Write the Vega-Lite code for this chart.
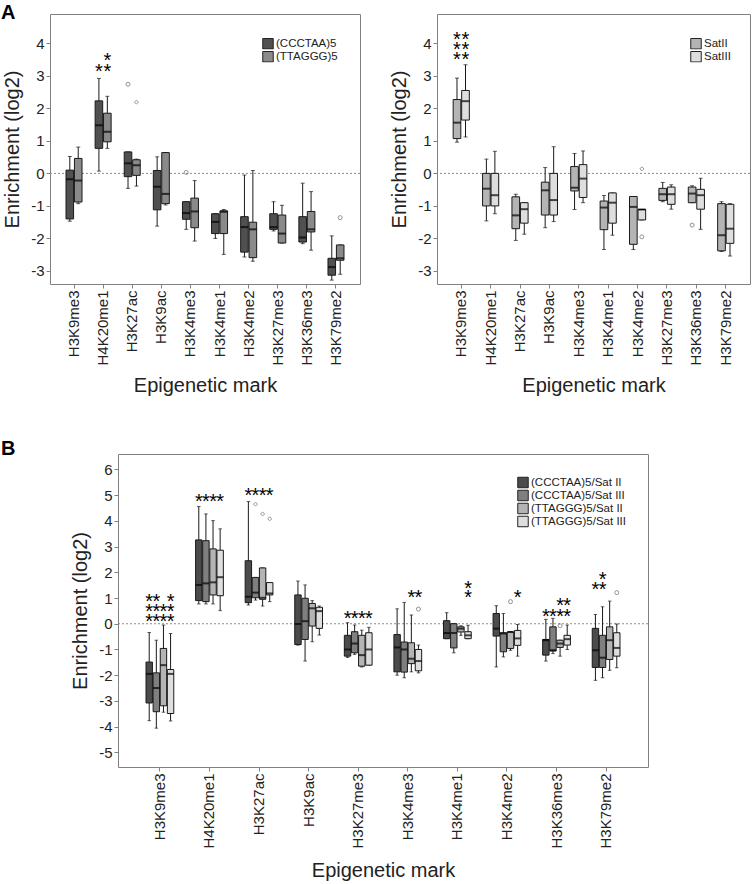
{
"$schema": "https://vega.github.io/schema/vega-lite/v6.json",
"padding": {"left": 0, "top": 2, "right": 0, "bottom": 0},
"background": "white",
"config": {
 "font": "Liberation Sans",
 "view": {"stroke": "#808080", "strokeWidth": 1},
 "axis": {"grid": false, "domain": false, "tickColor": "#808080", "tickSize": 4, "labelColor": "#222222", "titleColor": "#222222", "labelFontSize": 15, "titleFontSize": 20, "titleFontWeight": "normal", "labelFont": "Liberation Sans", "titleFont": "Liberation Sans", "labelPadding": 2, "labelOverlap": false},
 "axisY": {"labelOverlap": false, "labelBound": false, "labelFlush": false},
 "legend": {"title": null, "labelFontSize": 11.5, "labelFont": "Liberation Sans", "labelColor": "#222222", "symbolType": "square", "symbolSize": 110, "symbolStrokeColor": "#222222", "symbolStrokeWidth": 1, "rowPadding": 0, "labelOffset": 2, "padding": 0, "orient": "none", "clipHeight": 11.5}
},
"datasets": {
 "boxA1": [
  {"mark":"H3K9me3","series":"(CCCTAA)5","min":-1.47,"q1":-1.40,"med":-0.18,"q3":0.10,"max":0.52},
  {"mark":"H3K9me3","series":"(TTAGGG)5","min":-0.93,"q1":-0.88,"med":-0.22,"q3":0.46,"max":0.81},
  {"mark":"H4K20me1","series":"(CCCTAA)5","min":0.07,"q1":0.77,"med":1.48,"q3":2.23,"max":2.92},
  {"mark":"H4K20me1","series":"(TTAGGG)5","min":0.77,"q1":0.97,"med":1.28,"q3":1.85,"max":2.37},
  {"mark":"H3K27ac","series":"(CCCTAA)5","min":-0.46,"q1":-0.10,"med":0.31,"q3":0.66,"max":0.66},
  {"mark":"H3K27ac","series":"(TTAGGG)5","min":-0.39,"q1":-0.06,"med":0.25,"q3":0.42,"max":0.44},
  {"mark":"H3K9ac","series":"(CCCTAA)5","min":-1.62,"q1":-1.12,"med":-0.41,"q3":0.09,"max":0.51},
  {"mark":"H3K9ac","series":"(TTAGGG)5","min":-0.97,"q1":-0.93,"med":-0.63,"q3":0.64,"max":0.64},
  {"mark":"H3K4me3","series":"(CCCTAA)5","min":-1.72,"q1":-1.41,"med":-1.22,"q3":-0.87,"max":-0.87},
  {"mark":"H3K4me3","series":"(TTAGGG)5","min":-2.08,"q1":-1.67,"med":-1.17,"q3":-0.76,"max":-0.22},
  {"mark":"H3K4me1","series":"(CCCTAA)5","min":-2.0,"q1":-1.85,"med":-1.49,"q3":-1.24,"max":-1.24},
  {"mark":"H3K4me1","series":"(TTAGGG)5","min":-2.49,"q1":-1.85,"med":-1.18,"q3":-1.15,"max":-1.11},
  {"mark":"H3K4me2","series":"(CCCTAA)5","min":-2.57,"q1":-2.42,"med":-1.65,"q3":-1.33,"max":-0.05},
  {"mark":"H3K4me2","series":"(TTAGGG)5","min":-2.70,"q1":-2.59,"med":-1.72,"q3":-1.50,"max":0.09},
  {"mark":"H3K27me3","series":"(CCCTAA)5","min":-1.77,"q1":-1.72,"med":-1.65,"q3":-1.24,"max":-0.87},
  {"mark":"H3K27me3","series":"(TTAGGG)5","min":-2.14,"q1":-2.14,"med":-1.85,"q3":-1.28,"max":-0.98},
  {"mark":"H3K36me3","series":"(CCCTAA)5","min":-2.16,"q1":-2.11,"med":-1.97,"q3":-1.33,"max":-0.30},
  {"mark":"H3K36me3","series":"(TTAGGG)5","min":-2.36,"q1":-1.80,"med":-1.72,"q3":-1.17,"max":-0.56},
  {"mark":"H3K79me2","series":"(CCCTAA)5","min":-3.28,"q1":-3.13,"med":-2.88,"q3":-2.61,"max":-1.92},
  {"mark":"H3K79me2","series":"(TTAGGG)5","min":-3.10,"q1":-2.67,"med":-2.61,"q3":-2.20,"max":-2.20}
 ],
 "outA1": [
  {"mark":"H3K27ac","series":"(CCCTAA)5","value":2.74,"kind":"outlier"},
  {"mark":"H3K27ac","series":"(TTAGGG)5","value":2.19,"kind":"extreme"},
  {"mark":"H3K4me3","series":"(CCCTAA)5","value":0.03,"kind":"outlier"},
  {"mark":"H3K79me2","series":"(TTAGGG)5","value":-1.36,"kind":"outlier"}
 ],
 "starA1": [
  {"mark":"H4K20me1","series":"(CCCTAA)5","level":3.27},
  {"mark":"H4K20me1","series":"(TTAGGG)5","level":3.27},
  {"mark":"H4K20me1","series":"(TTAGGG)5","level":3.61}
 ],
 "boxA2": [
  {"mark":"H3K9me3","series":"SatII","min":0.96,"q1":1.07,"med":1.56,"q3":2.27,"max":2.93},
  {"mark":"H3K9me3","series":"SatIII","min":1.12,"q1":1.64,"med":2.22,"q3":2.55,"max":3.34},
  {"mark":"H4K20me1","series":"SatII","min":-1.46,"q1":-1.0,"med":-0.47,"q3":0.0,"max":0.44},
  {"mark":"H4K20me1","series":"SatIII","min":-1.24,"q1":-1.0,"med":-0.67,"q3":0.0,"max":0.68},
  {"mark":"H3K27ac","series":"SatII","min":-2.06,"q1":-1.70,"med":-1.29,"q3":-0.72,"max":-0.64},
  {"mark":"H3K27ac","series":"SatIII","min":-1.87,"q1":-1.53,"med":-1.10,"q3":-0.90,"max":-0.90},
  {"mark":"H3K9ac","series":"SatII","min":-1.67,"q1":-1.28,"med":-0.52,"q3":-0.27,"max":0.18},
  {"mark":"H3K9ac","series":"SatIII","min":-1.48,"q1":-1.28,"med":-0.82,"q3":0.0,"max":0.82},
  {"mark":"H3K4me3","series":"SatII","min":-1.11,"q1":-0.54,"med":-0.44,"q3":0.21,"max":0.61},
  {"mark":"H3K4me3","series":"SatIII","min":-0.90,"q1":-0.74,"med":-0.16,"q3":0.27,"max":0.69},
  {"mark":"H3K4me1","series":"SatII","min":-2.34,"q1":-1.73,"med":-1.05,"q3":-0.85,"max":-0.68},
  {"mark":"H3K4me1","series":"SatIII","min":-1.90,"q1":-1.53,"med":-0.90,"q3":-0.60,"max":-0.60},
  {"mark":"H3K4me2","series":"SatII","min":-2.34,"q1":-2.18,"med":-1.03,"q3":-0.71,"max":-0.71},
  {"mark":"H3K4me2","series":"SatIII","min":-1.43,"q1":-1.43,"med":-1.11,"q3":-1.11,"max":-1.11},
  {"mark":"H3K27me3","series":"SatII","min":-0.87,"q1":-0.83,"med":-0.64,"q3":-0.46,"max":-0.28},
  {"mark":"H3K27me3","series":"SatIII","min":-1.10,"q1":-0.95,"med":-0.64,"q3":-0.42,"max":-0.35},
  {"mark":"H3K36me3","series":"SatII","min":-0.90,"q1":-0.90,"med":-0.62,"q3":-0.42,"max":-0.38},
  {"mark":"H3K36me3","series":"SatIII","min":-1.72,"q1":-1.10,"med":-0.67,"q3":-0.49,"max":-0.15},
  {"mark":"H3K79me2","series":"SatII","min":-2.40,"q1":-2.38,"med":-1.90,"q3":-0.93,"max":-0.87},
  {"mark":"H3K79me2","series":"SatIII","min":-2.54,"q1":-2.15,"med":-1.70,"q3":-0.95,"max":-0.93}
 ],
 "outA2": [
  {"mark":"H3K4me2","series":"SatIII","value":0.14,"kind":"extreme"},
  {"mark":"H3K4me2","series":"SatIII","value":-1.95,"kind":"outlier"},
  {"mark":"H3K36me3","series":"SatII","value":-1.59,"kind":"outlier"}
 ],
 "starA2": [
  {"mark":"H3K9me3","series":"SatII","level":4.25},
  {"mark":"H3K9me3","series":"SatIII","level":4.25},
  {"mark":"H3K9me3","series":"SatII","level":3.95},
  {"mark":"H3K9me3","series":"SatIII","level":3.95},
  {"mark":"H3K9me3","series":"SatII","level":3.64},
  {"mark":"H3K9me3","series":"SatIII","level":3.64}
 ],
 "boxB": [
  {"mark":"H3K9me3","series":"(CCCTAA)5/Sat II","min":-3.77,"q1":-3.08,"med":-1.95,"q3":-1.49,"max":-0.34},
  {"mark":"H3K9me3","series":"(CCCTAA)5/Sat III","min":-4.06,"q1":-3.42,"med":-2.50,"q3":-1.91,"max":-0.64},
  {"mark":"H3K9me3","series":"(TTAGGG)5/Sat II","min":-3.44,"q1":-3.19,"med":-1.61,"q3":-0.96,"max":-0.05},
  {"mark":"H3K9me3","series":"(TTAGGG)5/Sat III","min":-3.78,"q1":-3.49,"med":-1.95,"q3":-1.78,"max":-0.38},
  {"mark":"H4K20me1","series":"(CCCTAA)5/Sat II","min":0.77,"q1":0.90,"med":1.51,"q3":3.26,"max":4.56},
  {"mark":"H4K20me1","series":"(CCCTAA)5/Sat III","min":0.77,"q1":0.86,"med":1.57,"q3":3.23,"max":4.27},
  {"mark":"H4K20me1","series":"(TTAGGG)5/Sat II","min":0.77,"q1":1.12,"med":1.61,"q3":2.91,"max":4.01},
  {"mark":"H4K20me1","series":"(TTAGGG)5/Sat III","min":0.51,"q1":1.09,"med":1.81,"q3":2.86,"max":3.69},
  {"mark":"H3K27ac","series":"(CCCTAA)5/Sat II","min":0.73,"q1":0.82,"med":1.05,"q3":2.45,"max":4.75},
  {"mark":"H3K27ac","series":"(CCCTAA)5/Sat III","min":0.92,"q1":1.01,"med":1.21,"q3":1.80,"max":1.80},
  {"mark":"H3K27ac","series":"(TTAGGG)5/Sat II","min":0.69,"q1":0.95,"med":1.01,"q3":2.17,"max":2.17},
  {"mark":"H3K27ac","series":"(TTAGGG)5/Sat III","min":0.86,"q1":1.12,"med":1.18,"q3":1.60,"max":1.60},
  {"mark":"H3K9ac","series":"(CCCTAA)5/Sat II","min":-0.83,"q1":-0.81,"med":-0.01,"q3":1.12,"max":1.66},
  {"mark":"H3K9ac","series":"(CCCTAA)5/Sat III","min":-1.45,"q1":-0.61,"med":0.10,"q3":0.99,"max":1.51},
  {"mark":"H3K9ac","series":"(TTAGGG)5/Sat II","min":-0.70,"q1":-0.09,"med":0.60,"q3":0.79,"max":0.90},
  {"mark":"H3K9ac","series":"(TTAGGG)5/Sat III","min":-0.44,"q1":-0.18,"med":0.49,"q3":0.64,"max":0.69},
  {"mark":"H3K27me3","series":"(CCCTAA)5/Sat II","min":-1.31,"q1":-1.26,"med":-1.0,"q3":-0.45,"max":0.04},
  {"mark":"H3K27me3","series":"(CCCTAA)5/Sat III","min":-1.19,"q1":-1.13,"med":-0.77,"q3":-0.31,"max":-0.05},
  {"mark":"H3K27me3","series":"(TTAGGG)5/Sat II","min":-1.68,"q1":-1.65,"med":-1.22,"q3":-0.45,"max":-0.25},
  {"mark":"H3K27me3","series":"(TTAGGG)5/Sat III","min":-1.61,"q1":-1.61,"med":-1.0,"q3":-0.35,"max":-0.14},
  {"mark":"H3K4me3","series":"(CCCTAA)5/Sat II","min":-2.0,"q1":-1.87,"med":-0.92,"q3":-0.42,"max":0.58},
  {"mark":"H3K4me3","series":"(CCCTAA)5/Sat III","min":-2.10,"q1":-1.88,"med":-1.0,"q3":-0.71,"max":0.83},
  {"mark":"H3K4me3","series":"(TTAGGG)5/Sat II","min":-1.87,"q1":-1.55,"med":-1.36,"q3":-0.74,"max":0.34},
  {"mark":"H3K4me3","series":"(TTAGGG)5/Sat III","min":-1.91,"q1":-1.83,"med":-1.45,"q3":-1.0,"max":-0.83},
  {"mark":"H3K4me1","series":"(CCCTAA)5/Sat II","min":-0.58,"q1":-0.58,"med":-0.36,"q3":0.12,"max":0.43},
  {"mark":"H3K4me1","series":"(CCCTAA)5/Sat III","min":-1.13,"q1":-0.94,"med":-0.36,"q3":0.0,"max":0.01},
  {"mark":"H3K4me1","series":"(TTAGGG)5/Sat II","min":-0.45,"q1":-0.32,"med":-0.19,"q3":-0.12,"max":-0.08},
  {"mark":"H3K4me1","series":"(TTAGGG)5/Sat III","min":-0.58,"q1":-0.58,"med":-0.45,"q3":-0.31,"max":-0.06},
  {"mark":"H3K4me2","series":"(CCCTAA)5/Sat II","min":-1.68,"q1":-0.48,"med":-0.19,"q3":0.40,"max":0.70},
  {"mark":"H3K4me2","series":"(CCCTAA)5/Sat III","min":-1.29,"q1":-1.09,"med":-0.38,"q3":-0.35,"max":0.40},
  {"mark":"H3K4me2","series":"(TTAGGG)5/Sat II","min":-1.03,"q1":-0.96,"med":-0.32,"q3":-0.32,"max":-0.31},
  {"mark":"H3K4me2","series":"(TTAGGG)5/Sat III","min":-1.26,"q1":-0.84,"med":-0.57,"q3":-0.26,"max":-0.03},
  {"mark":"H3K36me3","series":"(CCCTAA)5/Sat II","min":-1.45,"q1":-1.22,"med":-0.64,"q3":-0.61,"max":0.17},
  {"mark":"H3K36me3","series":"(CCCTAA)5/Sat III","min":-1.16,"q1":-1.06,"med":-1.03,"q3":-0.12,"max":0.21},
  {"mark":"H3K36me3","series":"(TTAGGG)5/Sat II","min":-1.26,"q1":-0.92,"med":-0.77,"q3":-0.64,"max":-0.64},
  {"mark":"H3K36me3","series":"(TTAGGG)5/Sat III","min":-1.0,"q1":-0.83,"med":-0.60,"q3":-0.45,"max":-0.05},
  {"mark":"H3K79me2","series":"(CCCTAA)5/Sat II","min":-2.2,"q1":-1.70,"med":-1.03,"q3":-0.18,"max":0.36},
  {"mark":"H3K79me2","series":"(CCCTAA)5/Sat III","min":-2.1,"q1":-1.70,"med":-1.32,"q3":-0.45,"max":0.66},
  {"mark":"H3K79me2","series":"(TTAGGG)5/Sat II","min":-1.81,"q1":-1.39,"med":-0.64,"q3":-0.12,"max":0.88},
  {"mark":"H3K79me2","series":"(TTAGGG)5/Sat III","min":-1.71,"q1":-1.26,"med":-0.94,"q3":-0.35,"max":-0.01}
 ],
 "outB": [
  {"mark":"H3K27ac","series":"(CCCTAA)5/Sat III","value":4.65,"kind":"extreme"},
  {"mark":"H3K27ac","series":"(TTAGGG)5/Sat II","value":4.27,"kind":"extreme"},
  {"mark":"H3K27ac","series":"(TTAGGG)5/Sat III","value":4.08,"kind":"extreme"},
  {"mark":"H3K4me3","series":"(TTAGGG)5/Sat III","value":0.57,"kind":"outlier"},
  {"mark":"H3K4me2","series":"(TTAGGG)5/Sat II","value":0.86,"kind":"outlier"},
  {"mark":"H3K36me3","series":"(TTAGGG)5/Sat II","value":-0.08,"kind":"outlier"},
  {"mark":"H3K79me2","series":"(TTAGGG)5/Sat III","value":1.21,"kind":"outlier"}
 ],
 "starB": [
  {"mark":"H3K9me3","series":"(CCCTAA)5/Sat II","level":1.05},
  {"mark":"H3K9me3","series":"(CCCTAA)5/Sat III","level":1.05},
  {"mark":"H3K9me3","series":"(TTAGGG)5/Sat III","level":1.05},
  {"mark":"H3K9me3","series":"(CCCTAA)5/Sat II","level":0.66},
  {"mark":"H3K9me3","series":"(CCCTAA)5/Sat III","level":0.66},
  {"mark":"H3K9me3","series":"(TTAGGG)5/Sat II","level":0.66},
  {"mark":"H3K9me3","series":"(TTAGGG)5/Sat III","level":0.66},
  {"mark":"H3K9me3","series":"(CCCTAA)5/Sat II","level":0.27},
  {"mark":"H3K9me3","series":"(CCCTAA)5/Sat III","level":0.27},
  {"mark":"H3K9me3","series":"(TTAGGG)5/Sat II","level":0.27},
  {"mark":"H3K9me3","series":"(TTAGGG)5/Sat III","level":0.27},
  {"mark":"H4K20me1","series":"(CCCTAA)5/Sat II","level":4.93},
  {"mark":"H4K20me1","series":"(CCCTAA)5/Sat III","level":4.93},
  {"mark":"H4K20me1","series":"(TTAGGG)5/Sat II","level":4.93},
  {"mark":"H4K20me1","series":"(TTAGGG)5/Sat III","level":4.93},
  {"mark":"H3K27ac","series":"(CCCTAA)5/Sat II","level":5.18},
  {"mark":"H3K27ac","series":"(CCCTAA)5/Sat III","level":5.18},
  {"mark":"H3K27ac","series":"(TTAGGG)5/Sat II","level":5.18},
  {"mark":"H3K27ac","series":"(TTAGGG)5/Sat III","level":5.18},
  {"mark":"H3K27me3","series":"(CCCTAA)5/Sat II","level":0.37},
  {"mark":"H3K27me3","series":"(CCCTAA)5/Sat III","level":0.37},
  {"mark":"H3K27me3","series":"(TTAGGG)5/Sat II","level":0.37},
  {"mark":"H3K27me3","series":"(TTAGGG)5/Sat III","level":0.37},
  {"mark":"H3K4me3","series":"(TTAGGG)5/Sat II","level":1.18},
  {"mark":"H3K4me3","series":"(TTAGGG)5/Sat III","level":1.18},
  {"mark":"H3K4me1","series":"(TTAGGG)5/Sat III","level":1.53},
  {"mark":"H3K4me1","series":"(TTAGGG)5/Sat III","level":1.18},
  {"mark":"H3K4me2","series":"(TTAGGG)5/Sat III","level":1.18},
  {"mark":"H3K36me3","series":"(TTAGGG)5/Sat II","level":0.88},
  {"mark":"H3K36me3","series":"(TTAGGG)5/Sat III","level":0.88},
  {"mark":"H3K36me3","series":"(CCCTAA)5/Sat II","level":0.47},
  {"mark":"H3K36me3","series":"(CCCTAA)5/Sat III","level":0.47},
  {"mark":"H3K36me3","series":"(TTAGGG)5/Sat II","level":0.47},
  {"mark":"H3K36me3","series":"(TTAGGG)5/Sat III","level":0.47},
  {"mark":"H3K79me2","series":"(CCCTAA)5/Sat III","level":1.89},
  {"mark":"H3K79me2","series":"(CCCTAA)5/Sat II","level":1.51},
  {"mark":"H3K79me2","series":"(CCCTAA)5/Sat III","level":1.51}
 ]
},
"resolve": {"scale": {"color": "independent", "x": "independent", "y": "independent", "xOffset": "independent", "shape": "independent"}, "legend": {"color": "independent"}},
"spacing": 43,
"vconcat": [
 {
  "spacing": 28,
  "resolve": {"scale": {"color": "independent", "x": "independent", "y": "independent", "xOffset": "independent", "shape": "independent"}, "legend": {"color": "independent"}},
  "hconcat": [
   {
    "width": 310, "height": 270,
    "title": {"text": "A", "anchor": "start", "frame": "group", "dx": -49, "offset": -25, "baseline": "alphabetic", "fontSize": 20, "fontWeight": "bold", "font": "Liberation Sans", "color": "#000000"},
    "encoding": {
     "x": {"field": "mark", "type": "nominal", "title": "Epigenetic mark", "scale": {"domain": ["H3K9me3","H4K20me1","H3K27ac","H3K9ac","H3K4me3","H3K4me1","H3K4me2","H3K27me3","H3K36me3","H3K79me2"], "paddingInner": 0.45, "paddingOuter": 0.55}, "axis": {"labelAngle": -90, "titlePadding": 10}},
     "xOffset": {"field": "series", "type": "nominal", "scale": {"domain": ["(CCCTAA)5", "(TTAGGG)5"], "paddingInner": 0.1, "paddingOuter": 0}}
    },
    "layer": [
     {"data": {"values": [{"z": 0}]}, "mark": {"type": "rule", "color": "#8c8c8c", "strokeDash": [2, 2], "strokeWidth": 1},
      "encoding": {"x": null, "xOffset": null, "y": {"field": "z", "type": "quantitative", "title": "Enrichment (log2)", "scale": {"domain": [-3.4, 4.9], "nice": false, "zero": false}, "axis": {"values": [-3, -2, -1, 0, 1, 2, 3, 4], "labelExpr": "datum.value + ''", "titlePadding": 8, "labelOverlap": false}}}},
     {"data": {"name": "boxA1"}, "mark": {"type": "rule", "color": "#1a1a1a", "strokeWidth": 1},
      "encoding": {"y": {"field": "min", "type": "quantitative", "title": "Enrichment (log2)", "axis": {"values": [-3, -2, -1, 0, 1, 2, 3, 4], "labelExpr": "datum.value + ''", "titlePadding": 8, "labelOverlap": false}}, "y2": {"field": "max"}}},
     {"data": {"name": "boxA1"}, "mark": {"type": "tick", "color": "#1a1a1a", "size": 4, "thickness": 1},
      "encoding": {"y": {"field": "min", "type": "quantitative", "title": "Enrichment (log2)", "axis": {"values": [-3, -2, -1, 0, 1, 2, 3, 4], "labelExpr": "datum.value + ''", "titlePadding": 8, "labelOverlap": false}}}},
     {"data": {"name": "boxA1"}, "mark": {"type": "tick", "color": "#1a1a1a", "size": 4, "thickness": 1},
      "encoding": {"y": {"field": "max", "type": "quantitative", "title": "Enrichment (log2)", "axis": {"values": [-3, -2, -1, 0, 1, 2, 3, 4], "labelExpr": "datum.value + ''", "titlePadding": 8, "labelOverlap": false}}}},
     {"data": {"name": "boxA1"}, "mark": {"type": "bar", "stroke": "#1a1a1a", "strokeWidth": 1},
      "encoding": {"y": {"field": "q1", "type": "quantitative", "title": "Enrichment (log2)", "axis": {"values": [-3, -2, -1, 0, 1, 2, 3, 4], "labelExpr": "datum.value + ''", "titlePadding": 8, "labelOverlap": false}}, "y2": {"field": "q3"},
       "color": {"field": "series", "type": "nominal", "scale": {"domain": ["(CCCTAA)5", "(TTAGGG)5"], "range": ["#505050", "#8a8a8a"]}, "legend": {"orient": "none", "legendX": 212, "legendY": 24}}}},
     {"data": {"name": "boxA1"}, "mark": {"type": "tick", "color": "#000000", "size": 7.6, "thickness": 2},
      "encoding": {"y": {"field": "med", "type": "quantitative", "title": "Enrichment (log2)", "axis": {"values": [-3, -2, -1, 0, 1, 2, 3, 4], "labelExpr": "datum.value + ''", "titlePadding": 8, "labelOverlap": false}}}},
     {"data": {"name": "outA1"}, "mark": {"type": "point", "filled": false, "color": "#666666", "size": 16, "strokeWidth": 1},
      "encoding": {"y": {"field": "value", "type": "quantitative", "title": "Enrichment (log2)", "axis": {"values": [-3, -2, -1, 0, 1, 2, 3, 4], "labelExpr": "datum.value + ''", "titlePadding": 8, "labelOverlap": false}},
       "shape": {"field": "kind", "type": "nominal", "scale": {"domain": ["outlier", "extreme"], "range": ["circle", "diamond"]}, "legend": null}}},
     {"data": {"name": "starA1"}, "mark": {"type": "text", "text": "*", "fontSize": 20, "baseline": "middle", "dy": 5, "color": "#000000", "font": "Liberation Sans"},
      "encoding": {"y": {"field": "level", "type": "quantitative", "title": "Enrichment (log2)", "axis": {"values": [-3, -2, -1, 0, 1, 2, 3, 4], "labelExpr": "datum.value + ''", "titlePadding": 8, "labelOverlap": false}}}}
    ]
   },
   {
    "width": 313, "height": 270,
    "encoding": {
     "x": {"field": "mark", "type": "nominal", "title": "Epigenetic mark", "scale": {"domain": ["H3K9me3","H4K20me1","H3K27ac","H3K9ac","H3K4me3","H3K4me1","H3K4me2","H3K27me3","H3K36me3","H3K79me2"], "paddingInner": 0.45, "paddingOuter": 0.55}, "axis": {"labelAngle": -90, "titlePadding": 10}},
     "xOffset": {"field": "series", "type": "nominal", "scale": {"domain": ["SatII", "SatIII"], "paddingInner": 0.1, "paddingOuter": 0}}
    },
    "layer": [
     {"data": {"values": [{"z": 0}]}, "mark": {"type": "rule", "color": "#8c8c8c", "strokeDash": [2, 2], "strokeWidth": 1},
      "encoding": {"x": null, "xOffset": null, "y": {"field": "z", "type": "quantitative", "title": "Enrichment (log2)", "scale": {"domain": [-3.4, 4.9], "nice": false, "zero": false}, "axis": {"values": [-3, -2, -1, 0, 1, 2, 3, 4], "labelExpr": "datum.value + ''", "titlePadding": 8, "labelOverlap": false}}}},
     {"data": {"name": "boxA2"}, "mark": {"type": "rule", "color": "#1a1a1a", "strokeWidth": 1},
      "encoding": {"y": {"field": "min", "type": "quantitative", "title": "Enrichment (log2)", "axis": {"values": [-3, -2, -1, 0, 1, 2, 3, 4], "labelExpr": "datum.value + ''", "titlePadding": 8, "labelOverlap": false}}, "y2": {"field": "max"}}},
     {"data": {"name": "boxA2"}, "mark": {"type": "tick", "color": "#1a1a1a", "size": 4, "thickness": 1},
      "encoding": {"y": {"field": "min", "type": "quantitative", "title": "Enrichment (log2)", "axis": {"values": [-3, -2, -1, 0, 1, 2, 3, 4], "labelExpr": "datum.value + ''", "titlePadding": 8, "labelOverlap": false}}}},
     {"data": {"name": "boxA2"}, "mark": {"type": "tick", "color": "#1a1a1a", "size": 4, "thickness": 1},
      "encoding": {"y": {"field": "max", "type": "quantitative", "title": "Enrichment (log2)", "axis": {"values": [-3, -2, -1, 0, 1, 2, 3, 4], "labelExpr": "datum.value + ''", "titlePadding": 8, "labelOverlap": false}}}},
     {"data": {"name": "boxA2"}, "mark": {"type": "bar", "stroke": "#1a1a1a", "strokeWidth": 1},
      "encoding": {"y": {"field": "q1", "type": "quantitative", "title": "Enrichment (log2)", "axis": {"values": [-3, -2, -1, 0, 1, 2, 3, 4], "labelExpr": "datum.value + ''", "titlePadding": 8, "labelOverlap": false}}, "y2": {"field": "q3"},
       "color": {"field": "series", "type": "nominal", "scale": {"domain": ["SatII", "SatIII"], "range": ["#b4b4b4", "#dedede"]}, "legend": {"orient": "none", "legendX": 253, "legendY": 24}}}},
     {"data": {"name": "boxA2"}, "mark": {"type": "tick", "color": "#000000", "size": 7.6, "thickness": 2},
      "encoding": {"y": {"field": "med", "type": "quantitative", "title": "Enrichment (log2)", "axis": {"values": [-3, -2, -1, 0, 1, 2, 3, 4], "labelExpr": "datum.value + ''", "titlePadding": 8, "labelOverlap": false}}}},
     {"data": {"name": "outA2"}, "mark": {"type": "point", "filled": false, "color": "#666666", "size": 16, "strokeWidth": 1},
      "encoding": {"y": {"field": "value", "type": "quantitative", "title": "Enrichment (log2)", "axis": {"values": [-3, -2, -1, 0, 1, 2, 3, 4], "labelExpr": "datum.value + ''", "titlePadding": 8, "labelOverlap": false}},
       "shape": {"field": "kind", "type": "nominal", "scale": {"domain": ["outlier", "extreme"], "range": ["circle", "diamond"]}, "legend": null}}},
     {"data": {"name": "starA2"}, "mark": {"type": "text", "text": "*", "fontSize": 20, "baseline": "middle", "dy": 5, "color": "#000000", "font": "Liberation Sans"},
      "encoding": {"y": {"field": "level", "type": "quantitative", "title": "Enrichment (log2)", "axis": {"values": [-3, -2, -1, 0, 1, 2, 3, 4], "labelExpr": "datum.value + ''", "titlePadding": 8, "labelOverlap": false}}}}
    ]
   }
  ]
 },
 {
  "spacing": 0,
  "resolve": {"scale": {"color": "independent", "x": "independent", "y": "independent", "xOffset": "independent", "shape": "independent"}, "legend": {"color": "independent"}},
  "hconcat": [
   {
    "width": 20, "height": 20,
    "view": {"stroke": null},
    "title": {"text": "B", "anchor": "start", "frame": "group", "dx": -49, "offset": -21, "baseline": "alphabetic", "fontSize": 20, "fontWeight": "bold", "font": "Liberation Sans", "color": "#000000"},
    "data": {"values": [{"t": ""}]},
    "mark": {"type": "text"},
    "encoding": {"text": {"field": "t", "type": "nominal"}}
   },
   {
    "width": 530, "height": 313,
    "encoding": {
     "x": {"field": "mark", "type": "nominal", "title": "Epigenetic mark", "scale": {"domain": ["H3K9me3","H4K20me1","H3K27ac","H3K9ac","H3K27me3","H3K4me3","H3K4me1","H3K4me2","H3K36me3","H3K79me2"], "paddingInner": 0.44, "paddingOuter": 0.565}, "axis": {"labelAngle": -90, "titlePadding": 12}},
     "xOffset": {"field": "series", "type": "nominal", "scale": {"domain": ["(CCCTAA)5/Sat II", "(CCCTAA)5/Sat III", "(TTAGGG)5/Sat II", "(TTAGGG)5/Sat III"], "paddingInner": 0.1, "paddingOuter": 0}}
    },
    "layer": [
     {"data": {"values": [{"z": 0}]}, "mark": {"type": "rule", "color": "#8c8c8c", "strokeDash": [2, 2], "strokeWidth": 1},
      "encoding": {"x": null, "xOffset": null, "y": {"field": "z", "type": "quantitative", "title": "Enrichment (log2)", "scale": {"domain": [-5.57, 6.6], "nice": false, "zero": false}, "axis": {"values": [-5, -4, -3, -2, -1, 0, 1, 2, 3, 4, 5, 6], "labelExpr": "datum.value + ''", "titlePadding": 8, "labelOverlap": false}}}},
     {"data": {"name": "boxB"}, "mark": {"type": "rule", "color": "#1a1a1a", "strokeWidth": 1},
      "encoding": {"y": {"field": "min", "type": "quantitative", "title": "Enrichment (log2)", "axis": {"values": [-5, -4, -3, -2, -1, 0, 1, 2, 3, 4, 5, 6], "labelExpr": "datum.value + ''", "titlePadding": 8, "labelOverlap": false}}, "y2": {"field": "max"}}},
     {"data": {"name": "boxB"}, "mark": {"type": "tick", "color": "#1a1a1a", "size": 3.5, "thickness": 1},
      "encoding": {"y": {"field": "min", "type": "quantitative", "title": "Enrichment (log2)", "axis": {"values": [-5, -4, -3, -2, -1, 0, 1, 2, 3, 4, 5, 6], "labelExpr": "datum.value + ''", "titlePadding": 8, "labelOverlap": false}}}},
     {"data": {"name": "boxB"}, "mark": {"type": "tick", "color": "#1a1a1a", "size": 3.5, "thickness": 1},
      "encoding": {"y": {"field": "max", "type": "quantitative", "title": "Enrichment (log2)", "axis": {"values": [-5, -4, -3, -2, -1, 0, 1, 2, 3, 4, 5, 6], "labelExpr": "datum.value + ''", "titlePadding": 8, "labelOverlap": false}}}},
     {"data": {"name": "boxB"}, "mark": {"type": "bar", "stroke": "#1a1a1a", "strokeWidth": 1},
      "encoding": {"y": {"field": "q1", "type": "quantitative", "title": "Enrichment (log2)", "axis": {"values": [-5, -4, -3, -2, -1, 0, 1, 2, 3, 4, 5, 6], "labelExpr": "datum.value + ''", "titlePadding": 8, "labelOverlap": false}}, "y2": {"field": "q3"},
       "color": {"field": "series", "type": "nominal", "scale": {"domain": ["(CCCTAA)5/Sat II", "(CCCTAA)5/Sat III", "(TTAGGG)5/Sat II", "(TTAGGG)5/Sat III"], "range": ["#4b4b4b", "#7f7f7f", "#b4b4b4", "#dedede"]}, "legend": {"orient": "none", "legendX": 399, "legendY": 22, "clipHeight": 13}}}},
     {"data": {"name": "boxB"}, "mark": {"type": "tick", "color": "#000000", "size": 6.4, "thickness": 2},
      "encoding": {"y": {"field": "med", "type": "quantitative", "title": "Enrichment (log2)", "axis": {"values": [-5, -4, -3, -2, -1, 0, 1, 2, 3, 4, 5, 6], "labelExpr": "datum.value + ''", "titlePadding": 8, "labelOverlap": false}}}},
     {"data": {"name": "outB"}, "mark": {"type": "point", "filled": false, "color": "#666666", "size": 16, "strokeWidth": 1},
      "encoding": {"y": {"field": "value", "type": "quantitative", "title": "Enrichment (log2)", "axis": {"values": [-5, -4, -3, -2, -1, 0, 1, 2, 3, 4, 5, 6], "labelExpr": "datum.value + ''", "titlePadding": 8, "labelOverlap": false}},
       "shape": {"field": "kind", "type": "nominal", "scale": {"domain": ["outlier", "extreme"], "range": ["circle", "diamond"]}, "legend": null}}},
     {"data": {"name": "starB"}, "mark": {"type": "text", "text": "*", "fontSize": 20, "baseline": "middle", "dy": 5, "color": "#000000", "font": "Liberation Sans"},
      "encoding": {"y": {"field": "level", "type": "quantitative", "title": "Enrichment (log2)", "axis": {"values": [-5, -4, -3, -2, -1, 0, 1, 2, 3, 4, 5, 6], "labelExpr": "datum.value + ''", "titlePadding": 8, "labelOverlap": false}}}}
    ]
   }
  ]
 }
]
}
